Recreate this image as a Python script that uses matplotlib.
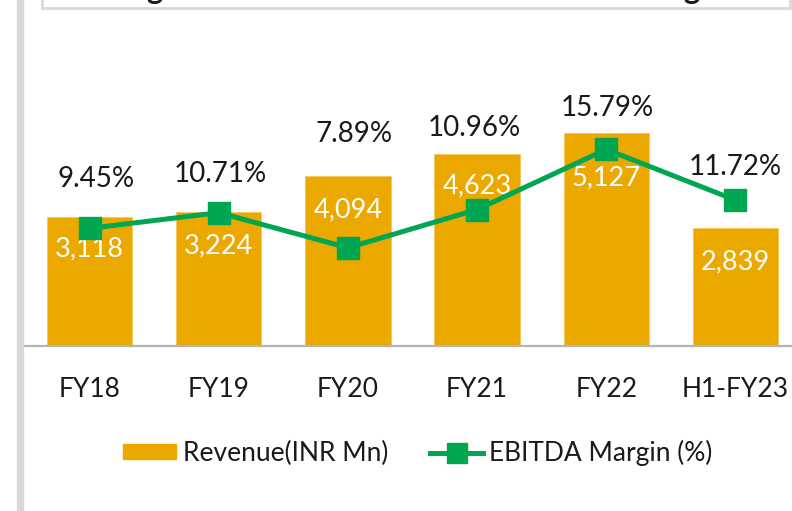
import matplotlib.pyplot as plt
from matplotlib.patches import Rectangle
from matplotlib.lines import Line2D
import numpy as np

# data
periods = ['FY18', 'FY19', 'FY20', 'FY21', 'FY22', 'H1-FY23']
revenue = [3118, 3224, 4094, 4623, 5127, 2839]
ebitda_margin = [9.45, 10.71, 7.89, 10.96, 15.79, 11.72]

# label layout (manual placement, as in the source slide)
pct_label_y = [13.4, 13.8, 17.0, 17.5, 19.1, 14.4]
pct_label_dx = [0.05, 0.01, 0.05, -0.02, 0.01, 0.0]
rev_label_off = [-23, -24, -24, -23, -32, -24]

gold = '#EBA900'
green = '#00A651'
txt = '#1a1a1a'
plt.rcParams['font.family'] = ['Lato', 'DejaVu Sans']

W, H = 792, 511
fig = plt.figure(figsize=(W / 100, H / 100), dpi=100)

def px(x0, y0, w, h):
    # pixel box (top-left origin) -> figure fraction
    return [x0 / W, 1 - (y0 + h) / H, w / W, h / H]

ax = fig.add_axes(px(25, 97, 775, 249))
x = np.arange(len(periods))
ax.bar(x, revenue, width=0.66, color=gold, edgecolor='#F3C860', linewidth=0.6, zorder=2)
ax.set_xlim(-0.5, 5.5)
ax.set_ylim(0, 6000)
ax.set_yticks([])
for s in ['top', 'right', 'left']:
    ax.spines[s].set_visible(False)
ax.spines['bottom'].set_color('#B4B4B4')
ax.spines['bottom'].set_linewidth(1.6)
ax.set_xticks(x)
ax.set_xticklabels(periods, fontsize=19, color=txt)
ax.tick_params(axis='x', length=0, pad=22)

for i, v in enumerate(revenue):
    ax.annotate(f'{v:,}', (i, v), xytext=(0, rev_label_off[i]), textcoords='offset points',
                ha='center', va='center', color='white', fontsize=19.5, zorder=3)

ax2 = ax.twinx()
ax2.set_ylim(0, 20)
ax2.axis('off')
ax2.plot(x, ebitda_margin, color=green, lw=3.6, marker='s', ms=16, zorder=4)
for i, v in enumerate(ebitda_margin):
    ax2.text(i + pct_label_dx[i], pct_label_y[i], f'{v:.2f}%', ha='center', va='center',
             fontsize=20, color=txt)

# legend
handles = [Rectangle((0, 0), 1, 1, color=gold),
           Line2D([0], [0], color=green, lw=3.6, marker='s', ms=15)]
fig.legend(handles, ['Revenue(INR Mn)', 'EBITDA Margin (%)'], loc='center',
           bbox_to_anchor=(418 / W, 1 - 453 / H), ncol=2, frameon=False, fontsize=19,
           handlelength=2.0, handleheight=0.5, handletextpad=0.25, columnspacing=1.6,
           labelcolor=txt, numpoints=1)

# slide decoration: left rule and top box with cut-off heading
fig.patches.append(Rectangle((17 / W, 0), 6 / W, 1, transform=fig.transFigure,
                             color='#D9D9D9', zorder=0))
fig.patches.append(Rectangle((42 / W, 1 - 8 / H), 748 / W, 20 / H, transform=fig.transFigure,
                             facecolor='white', edgecolor='#D9D9D9', lw=2, zorder=0))
fig.text(154 / W, 1 + 1.5 / H, 'g', fontsize=22, fontweight='bold', ha='center', va='baseline', color=txt)
fig.text(691 / W, 1 + 1.5 / H, 'g', fontsize=22, fontweight='bold', ha='center', va='baseline', color=txt)

fig.savefig('out.png', dpi=100)
